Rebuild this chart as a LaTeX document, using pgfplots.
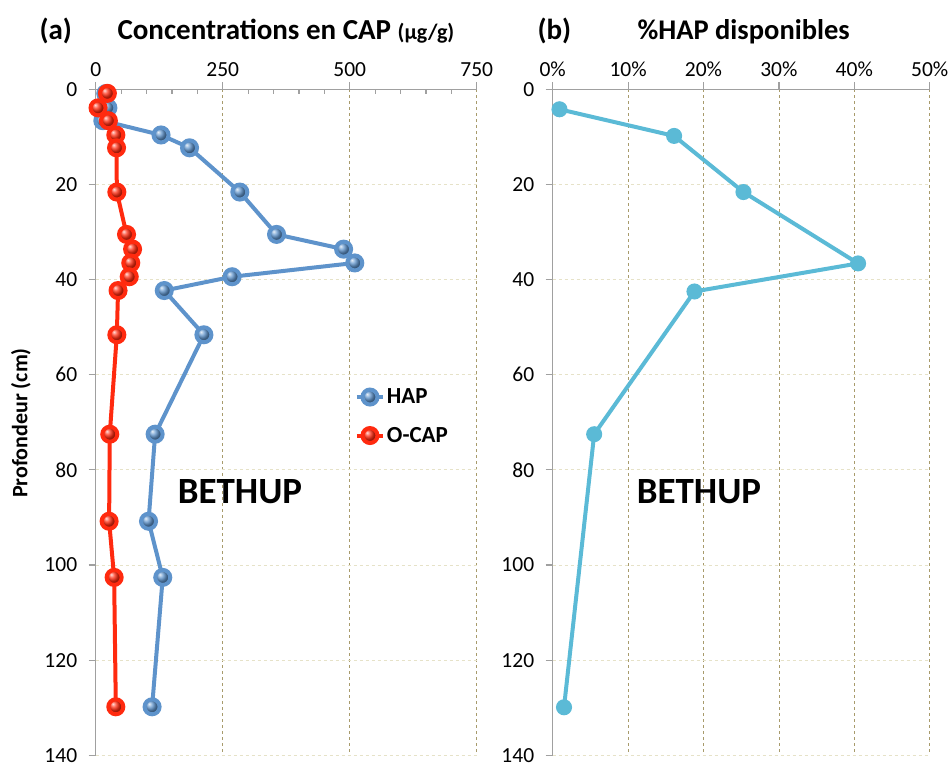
\documentclass[border=0pt]{standalone}
\usepackage{fontspec}
\setmainfont{Carlito}
\usepackage{pgfplots}
\pgfplotsset{compat=1.18}

\definecolor{hap}{HTML}{5E93CB}
\definecolor{ocap}{HTML}{FF2A0F}
\definecolor{disp}{HTML}{5BBAD6}
\definecolor{vgrid}{HTML}{A89B6C}
\definecolor{hgrid}{HTML}{E6E2C8}
\definecolor{axisgray}{HTML}{A0A0A0}

\pgfplotsset{
  depth/.style={
    scale only axis, height=666pt,
    y dir=reverse, ymin=0, ymax=140, ytick={0,20,...,140},
    axis x line*=top, axis y line*=left,
    axis line style={axisgray, line width=1.2pt},
    tick style={axisgray, line width=1.2pt},
    major tick length=7pt,
    tick align=outside,
    xmajorgrids, ymajorgrids,
    x grid style={vgrid, dashed, line width=0.8pt},
    y grid style={hgrid, dashed, line width=0.8pt},
    ticklabel style={font=\fontsize{21.5}{25}\selectfont},
    xticklabel style={yshift=2pt},
    yticklabel style={xshift=-8pt},
    /pgf/number format/assume math mode=true,
    clip=false,
  }
}

\begin{document}
\begin{tikzpicture}
\useasboundingbox (0,0) rectangle (949pt,-767pt);

% titres
\node[anchor=base west, font=\bfseries\fontsize{29}{34}\selectfont] at (36pt,-40pt) {(a)};
\node[anchor=base west, font=\bfseries\fontsize{29}{34}\selectfont] at (114pt,-40pt)
  {Concentrations en CAP {\fontsize{22}{26}\selectfont(µg/g)}};
\node[anchor=base west, font=\bfseries\fontsize{29}{34}\selectfont] at (534pt,-40pt) {(b)};
\node[anchor=base west, font=\bfseries\fontsize{28.5}{34}\selectfont] at (634pt,-40pt) {\%HAP disponibles};
\node[rotate=90, font=\bfseries\fontsize{22}{26}\selectfont] at (21pt,-423pt) {Profondeur (cm)};

% (a)
\begin{axis}[depth,
    at={(95.7pt,-89.3pt)}, anchor=north west,
    width=381pt,
    xmin=0, xmax=750, xtick={0,250,500,750},
    minor x tick num=4, minor tick length=5pt,
    minor x tick style={yshift=-5pt},
    legend style={draw=none, fill=none, at={(axis cs:510,62.5)}, anchor=north west,
      font=\bfseries\fontsize{23}{27}\selectfont, row sep=18pt,
      inner sep=0pt},
    legend cell align=left,
    legend image code/.code={
      \draw[mark repeat=2, mark phase=2] plot coordinates {(0pt,0pt) (13pt,0pt) (26pt,0pt)};},
  ]
  \addplot[hap, line width=4pt, mark=ball, mark size=7.5pt, mark options={ball color=hap}]
  coordinates {
    (19.8,0.9) (24,3.9) (14,6.6) (128.6,9.6) (184.7,12.3) (283.7,21.6)
    (356,30.5) (488,33.6) (510,36.5) (268.5,39.4) (135,42.3) (213,51.6)
    (117,72.5) (104,90.8) (132,102.6) (111,129.8)
  };
  \addlegendentry{HAP}
  \addplot[ocap, line width=4pt, mark=ball, mark size=7.5pt, mark options={ball color=ocap}]
  coordinates {
    (23,0.85) (4.6,3.9) (25,6.6) (39.6,9.6) (41,12.3) (41.6,21.6)
    (60.7,30.5) (72.6,33.6) (69,36.5) (66,39.4) (44,42.3) (41.6,51.6)
    (27.7,72.5) (26.4,90.8) (36.3,102.6) (39.6,129.8)
  };
  \addlegendentry{O-CAP}
  \node[font=\bfseries\fontsize{37}{42}\selectfont] at (axis cs:284,84.6) {BETHUP};
\end{axis}

% (b)
\begin{axis}[depth,
    at={(552.7pt,-89.3pt)}, anchor=north west,
    width=377pt,
    xmin=0, xmax=50, xtick={0,10,...,50},
    xticklabels={0\%,10\%,20\%,30\%,40\%,50\%},
  ]
  \addplot[disp, line width=4pt, mark=*, mark size=6pt]
  coordinates {
    (0.9,4.2) (16.1,9.8) (25.3,21.6) (40.5,36.6) (18.8,42.5) (5.5,72.5) (1.5,129.9)
  };
  \node[font=\bfseries\fontsize{37}{42}\selectfont] at (axis cs:19.4,84.6) {BETHUP};
\end{axis}
\end{tikzpicture}
\end{document}
